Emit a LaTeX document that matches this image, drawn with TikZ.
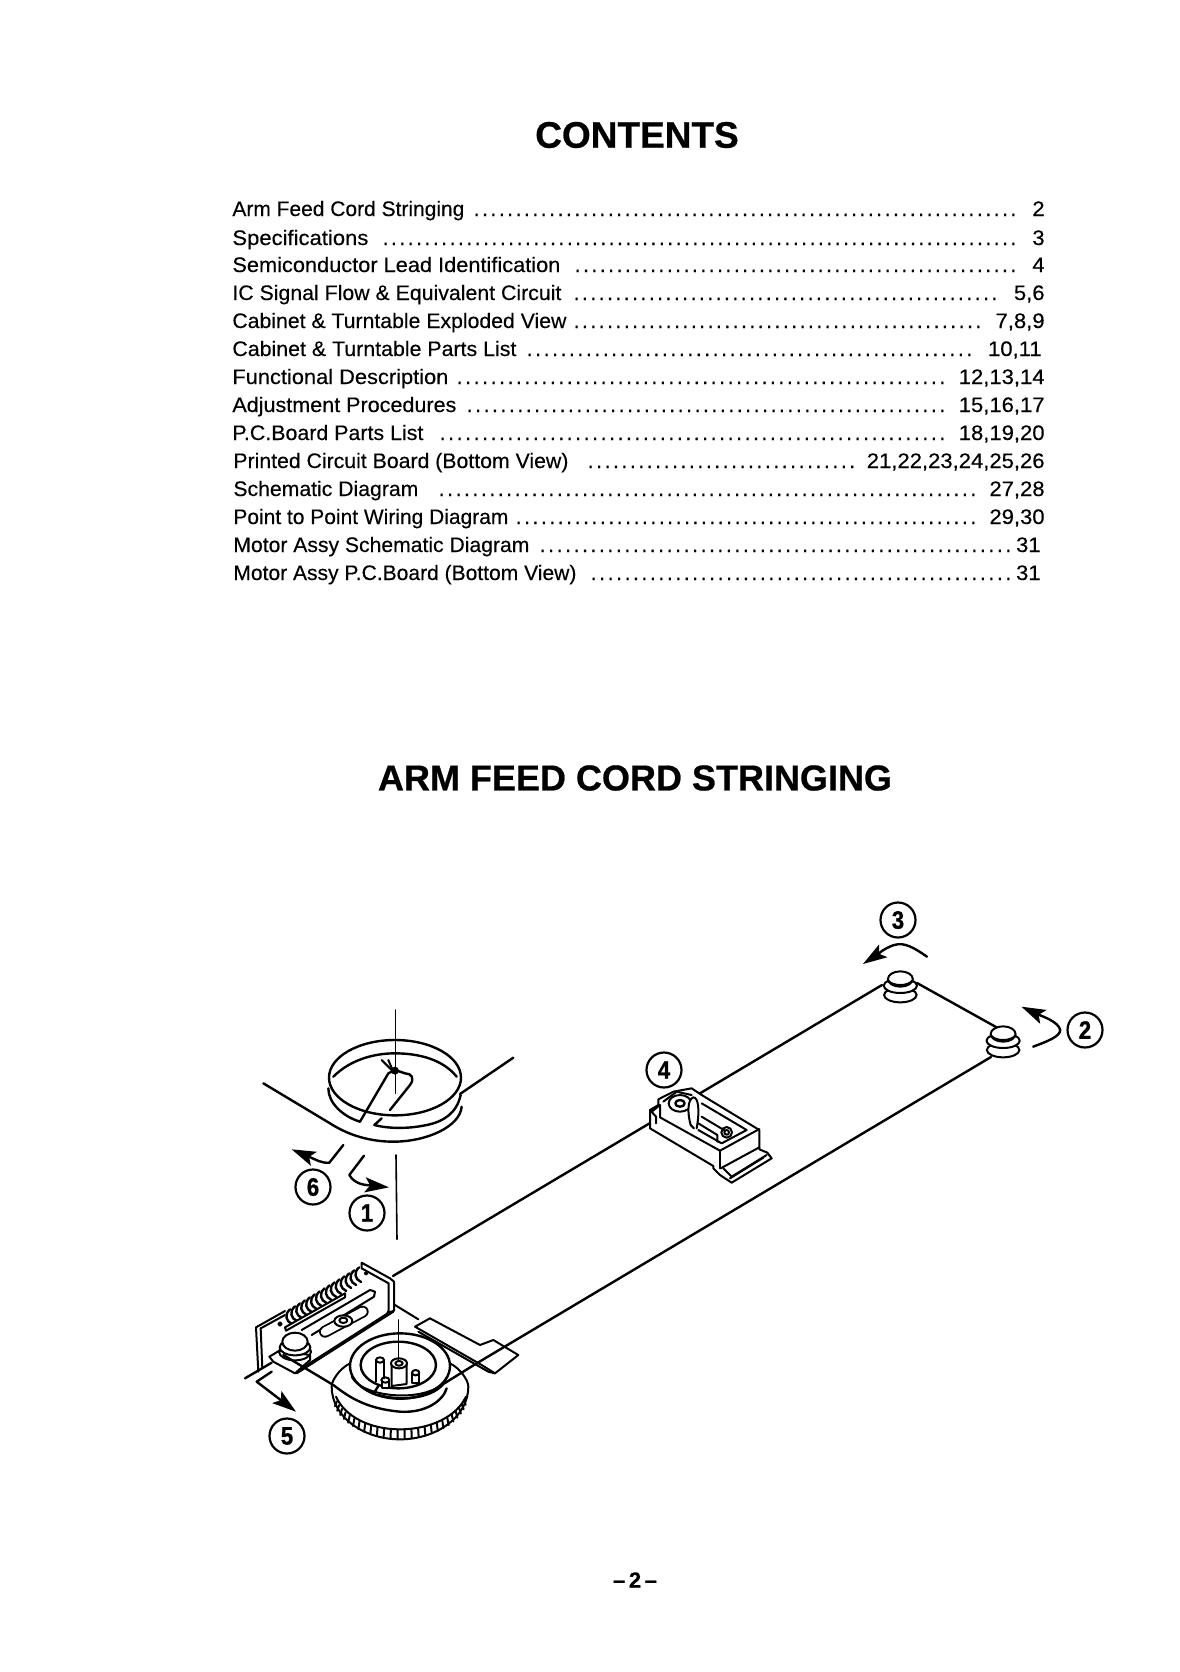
\documentclass[tikz,border=0pt]{standalone}
\usepackage{fontspec}
\usepackage{graphicx}
\setmainfont[FakeBold=0.25]{Liberation Sans}
\newfontfamily\numfont[FakeBold=1.2]{Liberation Sans Bold}
\newfontfamily\headfont[FakeBold=0.6]{Liberation Sans Bold}
\usetikzlibrary{arrows.meta}
\newlength{\pxu}\setlength{\pxu}{.5pt}
% dotted leader of a given width in page pixels
\newcommand{\dotrow}[1]{\hbox to #1\pxu{\xleaders\hbox to 8.33\pxu{\hss.\hss}\hfill}}
\newcommand{\circnum}[1]{\scalebox{.92}[1.05]{\numfont\fontsize{12pt}{12pt}\selectfont #1}}
\tikzset{
  cord/.style={line width=1.2pt,line cap=round,line join=round},
  thin line/.style={line width=.8pt,line cap=round,line join=round},
  med/.style={line width=1pt,line cap=round,line join=round},
  headarrow/.style={cord,-{Stealth[length=12pt,width=7.5pt,inset=2.5pt]}},
  callout/.style={circle,draw,line width=1.1pt,minimum size=17.5pt,inner sep=0pt},
  toc/.style={inner sep=0pt,font=\fontsize{10.5pt}{12pt}\selectfont},
  bigtitle/.style={inner sep=0pt,font=\headfont\fontsize{18pt}{20pt}\selectfont},
}
\newcommand{\tocline}[8]{% y, xleft, xend, title, dotstart, dotend, pageright, pages
  \node[toc,anchor=base west] (t#1) at (#2,#1) {\resizebox{\numexpr#3-#2\relax\pxu}{\height}{#4}};
  \node[toc,anchor=base west] (d#1) at (#5,#1) {\dotrow{\numexpr#6-#5\relax}};
  \node[toc,anchor=base east] (p#1) at (#7,#1) {\scalebox{1.05}[1]{#8}};
}
\newcommand{\postshape}[2]{% x,y in the zoom-2 scope
  \draw[med,fill=white] (#1,#2+40) ellipse [x radius=47,y radius=22];
  \draw[med,fill=white] (#1,#2+12) ellipse [x radius=48,y radius=22];
  \draw[med,fill=white] (#1,#2-8) ellipse [x radius=36,y radius=23];
  \draw[med] (#1-34,#2-2) .. controls (#1-20,#2+14) and (#1+20,#2+14) .. (#1+34,#2-2);
}
\begin{document}
\begin{tikzpicture}[x=.5pt,y=-.5pt]
\useasboundingbox (0,0) rectangle (1179,1672);
\fill[white] (0,0) rectangle (1179,1672);

% ---------- headings ----------
\node[bigtitle,font=\headfont\fontsize{18.5pt}{20pt}\selectfont] (h1) at (637,135) {CONTENTS};
\node[bigtitle] (h2) at (635,778) {ARM FEED CORD STRINGING};

% ---------- table of contents ----------
\tocline{216}{232}{464}{Arm Feed Cord Stringing}{472}{1017}{1045}{2}
\tocline{245}{232}{368}{Specifications}{381}{1017}{1045}{3}
\tocline{272}{232}{560}{Semiconductor Lead Identification}{573}{1017}{1045}{4}
\tocline{300}{232}{561}{IC Signal Flow \& Equivalent Circuit}{572}{998}{1045}{5,6}
\tocline{328}{232}{566}{Cabinet \& Turntable Exploded View}{572}{982}{1045}{7,8,9}
\tocline{356}{232}{516}{Cabinet \& Turntable Parts List}{525}{973}{1042}{10,11}
\tocline{384}{232}{448}{Functional Description}{455}{946}{1045}{12,13,14}
\tocline{412}{232}{456}{Adjustment Procedures}{465}{946}{1045}{15,16,17}
\tocline{440}{232}{423}{P.C.Board Parts List}{438}{946}{1045}{18,19,20}
\tocline{468}{233}{568}{Printed Circuit Board (Bottom View)}{586}{856}{1045}{21,22,23,24,25,26}
\tocline{496}{233}{418}{Schematic Diagram}{437}{977}{1045}{27,28}
\tocline{524}{233}{508}{Point to Point Wiring Diagram}{514}{977}{1045}{29,30}
\tocline{552}{233}{529}{Motor Assy Schematic Diagram}{538}{1012}{1041}{31}
\tocline{580}{233}{576}{Motor Assy P.C.Board (Bottom View)}{589}{1012}{1041}{31}

\node[bigtitle,font=\headfont\fontsize{11pt}{12pt}\selectfont] (pg) at (635,1580) {–\,2\,–};

% ---------- long cords ----------
\coordinate (ua) at (393,1276);
\coordinate (ub) at (882,985);
\coordinate (la) at (448,1382);
\coordinate (lb) at (991,1057);
\draw[cord] (ua) -- (ub);
\draw[cord] (917,983) -- (996,1027);

% ---------- right posts, callout arrows ----------
\begin{scope}[shift={(600,880)},xscale=1/2.89,yscale=1/3]
  \postshape{868}{305}
  \postshape{1165}{470}
  \draw[headarrow] (945,230) .. controls (910,205) and (880,185) .. (850,195) .. controls (820,205) and (800,225) .. (760,252);
  \draw[headarrow] (1252,500) .. controls (1290,485) and (1330,470) .. (1330,450) .. controls (1325,425) and (1280,410) .. (1218,380);
\end{scope}

% ---------- slider ----------
\begin{scope}[shift={(630,1060)},scale=1/3]
  \draw[med,fill=white] (60,150) -- (60,205) -- (250,318) -- (250,325) -- (270,345) -- (305,368) -- (425,295) -- (412,278) -- (388,268) -- (388,210) -- (215,105) -- (185,85) -- (130,95) -- (85,118) -- (85,135) -- cycle;
  \draw[med] (65,155) -- (90,135) -- (90,172) -- (270,272) -- (388,207);
  \draw[med] (270,272) -- (270,325);
  \draw[med] (280,325) -- (305,350) -- (410,285);
  \draw[med] (300,355) -- (400,293);
  \draw[med] (272,325) -- (388,262);
  \draw[med] (215,130) -- (350,210) -- (275,250) -- (205,210);
  \draw[med] (205,190) -- (262,225) -- (262,245);
  \draw[med] (215,170) -- (285,212);
  \draw[med] (290,217) circle [radius=16];
  \draw[med] (290,217) circle [radius=7];
  \draw[med] (150,130) ellipse [x radius=34,y radius=25];
  \draw[cord] (150,130) ellipse [x radius=14,y radius=10];
  \draw[med,fill=white] (182,195) .. controls (172,160) and (172,118) .. (190,112) .. controls (205,112) and (210,150) .. (200,205);
  \draw[med] (182,195) -- (192,205);
  \draw[med] (100,125) -- (140,95) -- (185,105);
  \draw[med] (60,150) -- (78,170) -- (78,190);
\end{scope}

% ---------- upper pulley ----------
\begin{scope}[shift={(240,1010)},scale=1/3]
  \draw[thin line] (467,0) -- (467,250);
  \draw[cord] (465,203) ellipse [x radius=198,y radius=113];
  \draw[cord] (660,252) -- (820,143);
  \draw[cord] (280,200) .. controls (330,150) and (400,130) .. (465,130) .. controls (540,130) and (610,150) .. (650,200);
  \draw[cord] (265,235) .. controls (265,280) and (310,320) .. (360,335);
  \draw[cord] (360,335) -- (445,190) -- (465,180);
  \draw[cord] (450,300) -- (510,225) .. controls (525,205) and (515,190) .. (495,190) -- (465,180);
  \draw[cord] (425,325) -- (403,345) .. controls (440,355) and (500,358) .. (560,345) .. controls (610,335) and (650,310) .. (662,255);
  \draw[cord] (70,220) -- (270,340) .. controls (340,385) and (410,395) .. (460,395) .. controls (560,395) and (660,350) .. (665,290);
  \draw[med] (425,150) -- (465,190);
  \draw[med] (445,150) -- (460,185);
  \fill (465,182) circle [radius=12];
  \draw[thin line] (468,435) -- (471,688);
  \draw[headarrow] (310,405) -- (268,458) .. controls (245,460) and (230,450) .. (155,418);
  \draw[headarrow] (372,437) -- (328,495) .. controls (345,525) and (380,525) .. (447,532);
\end{scope}

% ---------- lower mechanism ----------
\begin{scope}[shift={(230,1240)},scale=1/3]
  % base plate line and tab
  \draw[med] (495,195) -- (565,238);
  \draw[med,fill=white] (555,260) -- (600,235) -- (750,315) -- (790,300) -- (865,345) -- (795,400) -- (755,375) -- cycle;
  \draw[med] (565,275) -- (775,395) -- (795,400);
  \draw[cord] (740,370) -- (lb);
  % back wall
  \draw[med] (78,262) -- (165,213);
  \draw[med] (78,262) -- (85,395);
  \draw[med] (92,265) -- (165,225);
  \draw[med] (92,265) -- (97,385);
  % spring
  \foreach \t in {0,...,14}{
    \pgfmathsetmacro{\cx}{178+14.8*\t}
    \pgfmathsetmacro{\cy}{232-9*\t}
    \draw[line width=1.2pt,line cap=round] (\cx+2,\cy-24) .. controls (\cx-16,\cy-8) and (\cx-10,\cy+12) .. (\cx+8,\cy+20);
  }
  \draw[med,fill=white] (165,262) -- (168,272) -- (345,172) -- (345,160) -- cycle;
  \draw[med] (150,252) circle [radius=5];
  % sliding plate
  \draw[med] (215,270) -- (420,150) -- (435,155) -- (432,170) -- (245,285);
  \draw[med] (200,400) -- (490,215);
  \draw[med] (215,385) -- (470,222) -- (478,210);
  \draw[line width=6pt,line cap=round] (285,275) -- (398,215);
  \draw[line width=4.2pt,line cap=round,white] (285,275) -- (398,215);
  \draw[med,fill=white] (340,243) ellipse [x radius=27,y radius=17];
  \draw[med] (340,241) ellipse [x radius=12,y radius=8];
  % bracket
  \draw[med,fill=white] (395,68) -- (480,115) -- (492,125) -- (492,212) -- (476,218) -- (476,130) -- (395,85) -- cycle;
  \fill (408,100) circle [radius=6];
  % left post
  \draw[med,fill=white] (118,350) -- (148,332) -- (240,345) -- (240,360) -- (195,400) -- (130,365) -- cycle;
  \draw[med] (195,335) ellipse [x radius=48,y radius=26];
  \draw[med,fill=white] (195,322) ellipse [x radius=46,y radius=24];
  \draw[med,fill=white] (195,305) ellipse [x radius=38,y radius=27];
  \draw[cord] (45,415) -- (125,368);
  \draw[cord] (160,345) -- (310,435);
  % wheel body
  \draw[med,fill=white] (305,440) .. controls (305,530) and (400,598) .. (510,598) .. controls (620,598) and (715,530) .. (715,440) .. controls (715,420) and (690,385) .. (660,370) -- (360,370) .. controls (330,385) and (305,420) .. (305,440) -- cycle;
  \draw[med] (318,470) .. controls (345,530) and (420,568) .. (510,568) .. controls (600,568) and (680,530) .. (708,470);
  \foreach \a in {14,20,...,166}{
    \draw[med] ({510+197*cos(\a)},{452+116*sin(\a)}) -- ({510+203*cos(\a)},{462+134*sin(\a)});
  }
  % hub
  \draw[cord,fill=white] (510,378) ellipse [x radius=150,y radius=98];
  \draw[cord,fill=white] (505,375) ellipse [x radius=113,y radius=70];
  \draw[med] (365,410) .. controls (400,480) and (620,490) .. (652,410);
  % inside parts
  \draw[med,fill=white] (438,360) -- (438,425);
  \draw[med] (462,360) -- (462,415);
  \draw[med] (450,360) ellipse [x radius=12,y radius=8];
  \draw[med,fill=white] (485,370) -- (485,438) -- (530,432) -- (530,370);
  \draw[med,fill=white] (507,370) ellipse [x radius=24,y radius=15];
  \draw[med] (507,370) ellipse [x radius=11,y radius=7];
  \draw[med,fill=white] (547,398) -- (547,430) -- (568,430) -- (568,398);
  \draw[med] (557,398) ellipse [x radius=11,y radius=8];
  \draw[med,fill=white] (455,420) -- (455,445) -- (478,445) -- (478,420);
  \draw[med] (466,420) ellipse [x radius=12,y radius=8];
  \draw[thin line] (505,240) -- (505,362);
  % cord round the wheel
  \draw[cord] (310,435) .. controls (350,465) and (400,505) .. (510,515) .. controls (590,520) and (640,480) .. (650,445);
  \draw[cord] (430,462) -- (445,438);
  \draw[cord] (447,465) .. controls (500,482) and (600,480) .. (640,432) -- (740,370);
  \draw[headarrow] (125,395) -- (80,425) -- (198,515);
\end{scope}

% ---------- callouts ----------
\node[callout] (c1) at (367,1213) {\circnum{1}};
\node[callout] (c2) at (1085,1030) {\circnum{2}};
\node[callout] (c3) at (898,920) {\circnum{3}};
\node[callout] (c4) at (664,1070) {\circnum{4}};
\node[callout] (c5) at (287,1436) {\circnum{5}};
\node[callout] (c6) at (313,1187) {\circnum{6}};
\end{tikzpicture}
\end{document}
